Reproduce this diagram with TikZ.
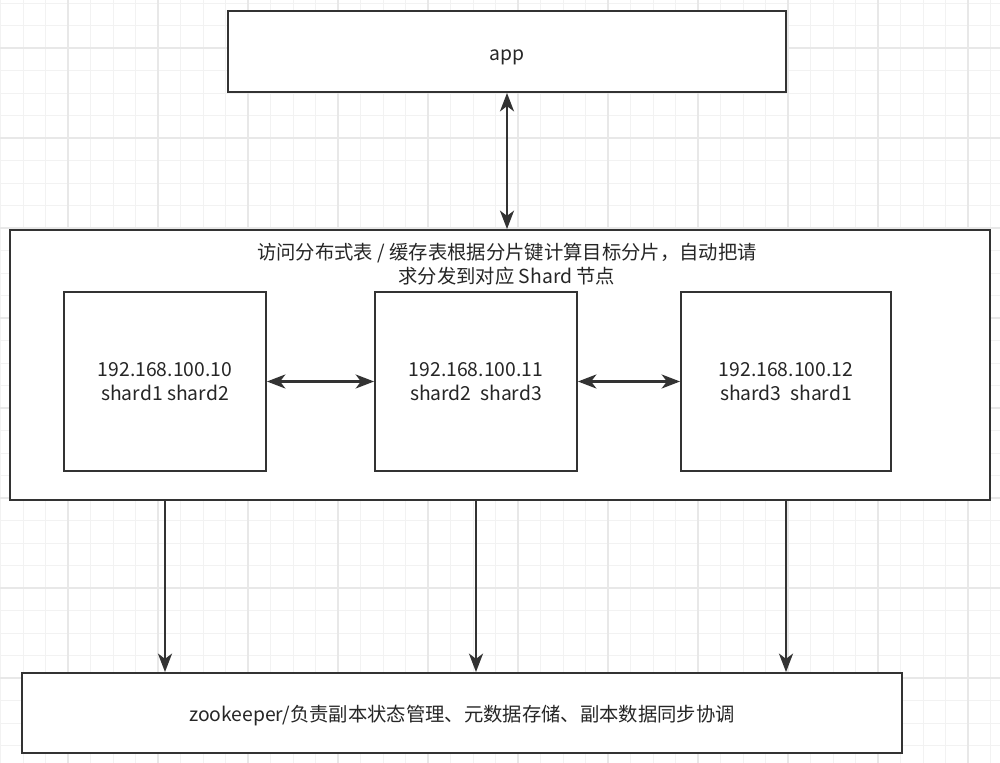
\documentclass[tikz,border=0pt]{standalone}
\usepackage{fontspec}
\setmainfont{Noto Sans CJK SC}
\usetikzlibrary{arrows.meta,positioning}

\begin{document}
\begin{tikzpicture}[
        x=0.02cm, y=-0.02cm,
        every node/.style={font=\fontsize{11}{13.6}\selectfont, align=center, text=black!85},
        box/.style={draw=black!80, line width=1.1pt, fill=white, inner sep=0pt},
        tip/.tip={Stealth[length=10.5pt, width=8pt, inset=3pt]},
        link/.style={line width=1.2pt, draw=black!80, -tip},
        twoway/.style={link, tip-tip},
        gridminor/.style={draw=black!5, line width=0.5pt},
        gridmajor/.style={draw=black!9, line width=0.7pt}
    ]

    \useasboundingbox (0,0) rectangle (1000,763);

    % Grid
    \foreach \i in {0,...,44} {
        \draw[gridminor] ({0.5+22.5*\i},0) -- ++(0,763);
    }
    \foreach \j in {0,...,33} {
        \draw[gridminor] (0,{3+22.5*\j}) -- ++(1000,0);
    }
    \foreach \i in {3,7,...,43} {
        \draw[gridmajor] ({0.5+22.5*\i},0) -- ++(0,763);
    }
    \foreach \j in {2,6,...,33} {
        \draw[gridmajor] (0,{3+22.5*\j}) -- ++(1000,0);
    }

    % Nodes
    \node[box, minimum width=11.16cm, minimum height=1.62cm,
          label={[yshift=-3.4pt]center:app}] (app) at (507,51.5) {};

    \node[box, minimum width=19.6cm, minimum height=5.4cm] (outer) at (500,365) {};
    \node (route) at (507,264) {访问分布式表 / 缓存表根据分片键计算目标分片，自动把请\\求分发到对应 Shard 节点};

    \node[box, minimum width=4.04cm, minimum height=3.58cm] (s1) at (165,381.5) {192.168.100.10\\shard1 shard2};
    \node[box, minimum width=4.04cm, minimum height=3.58cm] (s2) at (476,381.5) {192.168.100.11\\shard2~ shard3};
    \node[box, minimum width=4.2cm, minimum height=3.58cm] (s3) at (786,381.5) {192.168.100.12\\shard3~ shard1};

    \node[box, minimum width=17.6cm, minimum height=1.6cm,
          label={[yshift=-1.7pt]center:zookeeper/负责副本状态管理、元数据存储、副本数据同步协调}] (zk) at (462,713) {};

    % Edges
    \draw[twoway] (app.south) -- (app.south |- outer.north);
    \draw[twoway] (s1.east) -- (s2.west);
    \draw[twoway] (s2.east) -- (s3.west);
    \draw[link] (s1 |- outer.south) -- (s1 |- zk.north);
    \draw[link] (s2 |- outer.south) -- (s2 |- zk.north);
    \draw[link] (s3 |- outer.south) -- (s3 |- zk.north);

\end{tikzpicture}
\end{document}
